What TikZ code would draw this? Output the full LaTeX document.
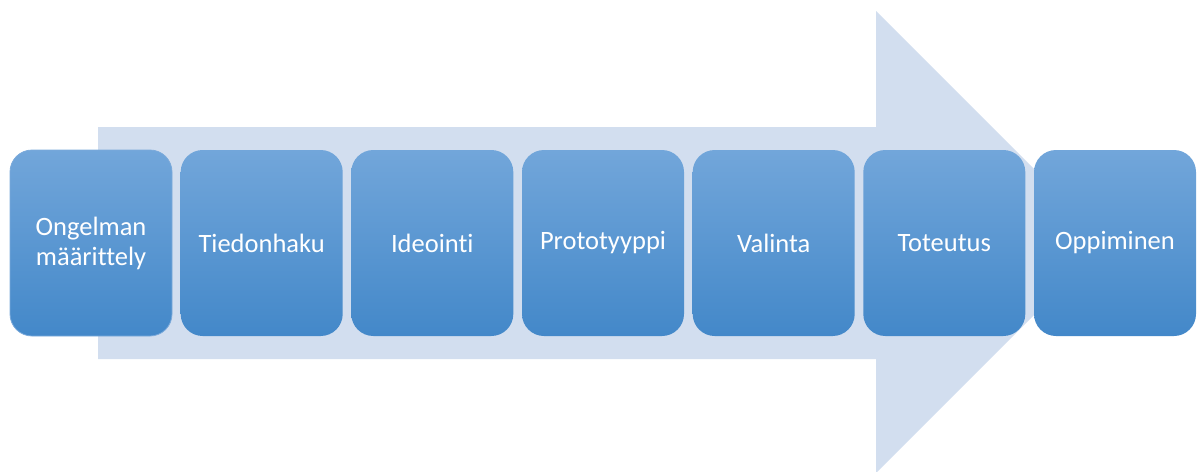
\documentclass[tikz,border=0pt]{standalone}
\usepackage{fontspec}
\setmainfont{Carlito}[Ligatures=NoCommon]
\usepackage{tikz}

\definecolor{arrowfill}{HTML}{D2DEEF}
\definecolor{boxtop}{HTML}{72A6DA}
\definecolor{boxbottom}{HTML}{4388C9}
\definecolor{boxline}{HTML}{7BAADB}

\tikzset{
  phase/.style={rounded corners=22pt, minimum width=162pt, minimum height=186pt,
    inner sep=0pt, top color=boxtop, bottom color=boxbottom, text=white,
    align=center, font=\fontsize{26.5}{30}\selectfont}
}

\begin{document}
\begin{tikzpicture}[x=1pt,y=-1pt]
						\useasboundingbox (0,0) rectangle (1201,471);
						% big arrow behind the steps
						\fill [arrowfill] (98,127) -- (876,127) -- (876,11) -- (1107,242)
							-- (876,473) -- (876,359) -- (98,359) -- cycle;
						\node [phase, draw=boxline, line width=0.8pt] (ongelma) at (91,243) {Ongelman\\määrittely};
						\node [phase] (tiedonhaku) at (261.7,243) {Tiedonhaku};
						\node [phase] (ideointi) at (432.3,243) {Ideointi};
						\node [phase] (prototyyppi) at (603,243) {Prototyyppi};
						\node [phase] (valinta) at (773.7,243) {Valinta};
						\node [phase] (toteutus) at (944.3,243) {Toteutus};
						\node [phase] (oppiminen) at (1115,243) {Oppiminen};
					\end{tikzpicture}
\end{document}
